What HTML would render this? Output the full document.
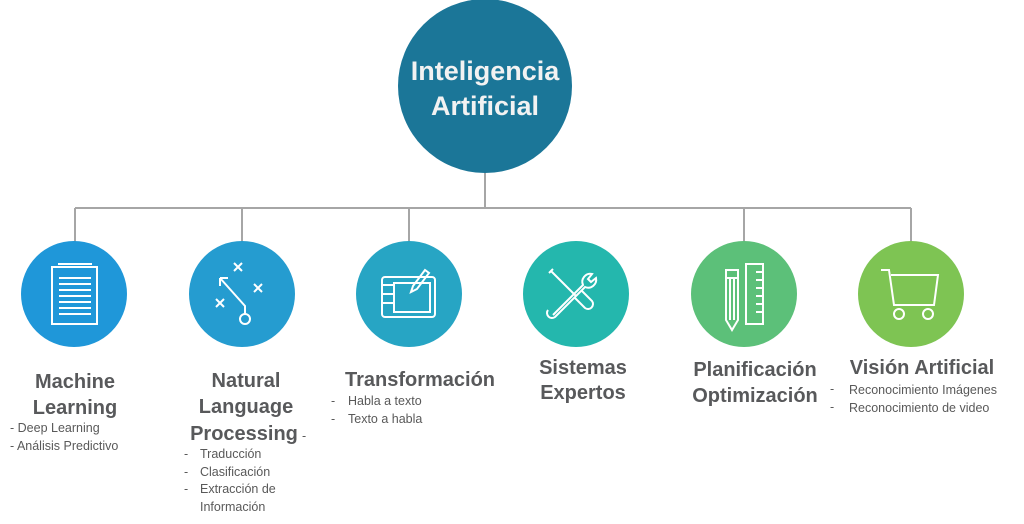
<!DOCTYPE html>
<html><head><meta charset="utf-8"><style>
body{margin:0;background:#fff;}
svg{display:block}
.t{font-family:"Liberation Sans",sans-serif;font-weight:bold;fill:#58595b;font-size:20px;text-anchor:middle}
.s{font-family:"Liberation Sans",sans-serif;fill:#595959;font-size:12.5px}
.ic{fill:none;stroke:#fff;stroke-width:2}
</style></head><body>
<svg width="1024" height="524" viewBox="0 0 1024 524">
<g stroke="#a6a6a6" stroke-width="2" fill="none">
<line x1="485" y1="170" x2="485" y2="208"/>
<line x1="75" y1="208" x2="911" y2="208"/>
<line x1="75" y1="208" x2="75" y2="242"/>
<line x1="242" y1="208" x2="242" y2="242"/>
<line x1="409" y1="208" x2="409" y2="242"/>
<line x1="744" y1="208" x2="744" y2="242"/>
<line x1="911" y1="208" x2="911" y2="242"/>
</g>
<circle cx="485" cy="86" r="87" fill="#1b7698"/>
<text x="485" y="80" fill="#f2f2f2" font-family="Liberation Sans,sans-serif" font-weight="bold" font-size="27" text-anchor="middle">Inteligencia</text>
<text x="485" y="115" fill="#f2f2f2" font-family="Liberation Sans,sans-serif" font-weight="bold" font-size="27" text-anchor="middle">Artificial</text>

<circle cx="74" cy="294" r="53" fill="#1f97d9"/>
<circle cx="242" cy="294" r="53" fill="#259cd0"/>
<circle cx="409" cy="294" r="53" fill="#27a5c4"/>
<circle cx="576" cy="294" r="53" fill="#24b7ad"/>
<circle cx="744" cy="294" r="53" fill="#5cc079"/>
<circle cx="911" cy="294" r="53" fill="#7ec453"/>

<!-- notepad -->
<g class="ic" stroke-width="1.5">
<rect x="52" y="267" width="45" height="57"/>
<line x1="58" y1="264" x2="92" y2="264"/>
<line x1="59" y1="278" x2="91" y2="278"/><line x1="59" y1="284" x2="91" y2="284"/><line x1="59" y1="290" x2="91" y2="290"/><line x1="59" y1="296" x2="91" y2="296"/><line x1="59" y1="302" x2="91" y2="302"/><line x1="59" y1="308" x2="91" y2="308"/><line x1="59" y1="314" x2="91" y2="314"/>
</g>
<!-- play -->
<g class="ic">
<path d="M234 263l8 8M242 263l-8 8M254 284l8 8M262 284l-8 8M216 299l8 8M224 299l-8 8"/>
<path d="M220 278l25 28v8M220 278h8M220 278v8"/>
<circle cx="245" cy="319" r="5"/>
</g>
<!-- tablet -->
<g class="ic">
<rect x="382" y="277" width="53" height="40" rx="3"/>
<rect x="394" y="283" width="36" height="29"/>
<path d="M383 285h10M383 294h10M383 303h10"/>
<path d="M413 286l12-16 4 3-12 16-6 3z"/>
</g>
<!-- tools -->
<g class="ic">
<path d="M551 271l25 25M549 273l4-4"/>
<path d="M575 298l10 10a5 5 0 0 0 7-7l-10-10"/>
<path d="M553 315l30-30a8 8 0 0 1 9-11l-4 5 3 3 5-4a8 8 0 0 1-11 9l-30 30a5 5 0 0 1-7-7"/>
</g>
<!-- pencil ruler -->
<g class="ic">
<path d="M726 270h12v50l-6 10-6-10z M726 278h12 M730 278v42 M734 278v42"/>
<rect x="746" y="264" width="17" height="60"/>
<path d="M756 272h7M756 280h7M756 288h7M756 296h7M756 304h7M756 312h7"/>
</g>
<!-- cart -->
<g class="ic">
<path d="M881 270h8l5 35h40l4-30h-47"/>
<circle cx="899" cy="314" r="5"/><circle cx="928" cy="314" r="5"/>
</g>

<text class="t" x="75" y="388">Machine</text>
<text class="t" x="75" y="414">Learning</text>
<text class="s" x="10" y="432">-  Deep Learning</text>
<text class="s" x="10" y="450">-  Análisis Predictivo</text>

<text class="t" x="246" y="387">Natural</text>
<text class="t" x="246" y="413">Language</text>
<text class="t" x="244" y="440">Processing</text><text class="s" x="302" y="440">-</text>
<text class="s" x="184" y="458">-</text><text class="s" x="200" y="458">Traducción</text>
<text class="s" x="184" y="476">-</text><text class="s" x="200" y="476">Clasificación</text>
<text class="s" x="184" y="493">-</text><text class="s" x="200" y="493">Extracción de</text>
<text class="s" x="200" y="511">Información</text>

<text class="t" x="420" y="386">Transformación</text>
<text class="s" x="331" y="405">-</text><text class="s" x="348" y="405">Habla a texto</text>
<text class="s" x="331" y="423">-</text><text class="s" x="348" y="423">Texto a habla</text>

<text class="t" x="583" y="374">Sistemas</text>
<text class="t" x="583" y="399">Expertos</text>

<text class="t" x="755" y="376">Planificación</text>
<text class="t" x="755" y="402">Optimización</text>
<text class="s" x="830" y="393">-</text>
<text class="s" x="830" y="411">-</text>

<text class="t" x="922" y="374">Visión Artificial</text>
<text class="s" x="849" y="394" font-size="12">Reconocimiento  Imágenes</text>
<text class="s" x="849" y="412" font-size="12">Reconocimiento de video</text>
</svg>
</body></html>
